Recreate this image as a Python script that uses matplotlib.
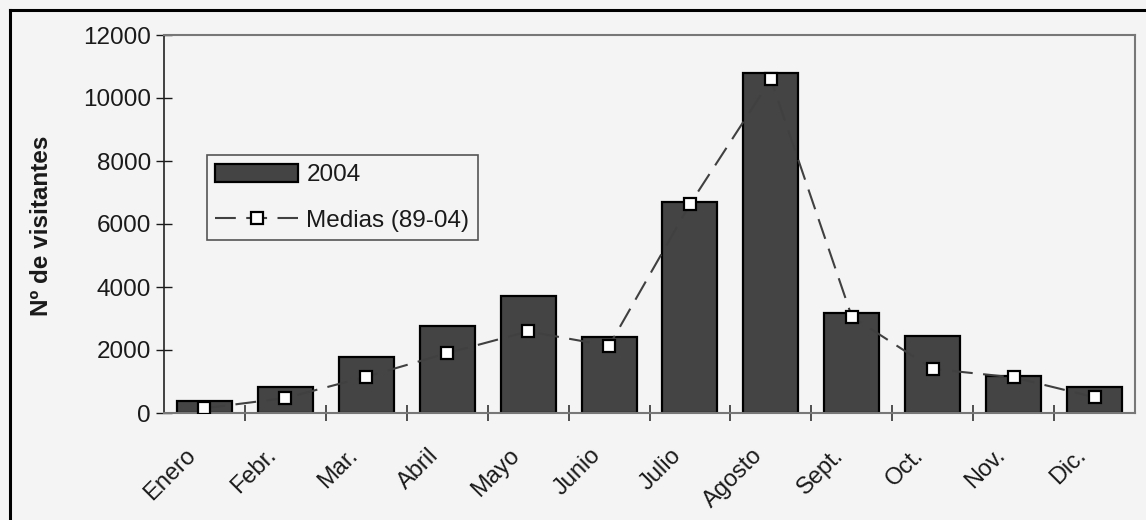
import matplotlib.pyplot as plt
import matplotlib.transforms as mtransforms
import numpy as np
from matplotlib.lines import Line2D

# datos
meses = ["Enero", "Febr.", "Mar.", "Abril", "Mayo", "Junio",
         "Julio", "Agosto", "Sept.", "Oct.", "Nov.", "Dic."]
visitantes_2004 = [390, 820, 1770, 2760, 3700, 2400, 6700, 10780, 3165, 2445, 1175, 835]
medias_89_04 = [150, 475, 1150, 1900, 2590, 2130, 6630, 10590, 3060, 1400, 1130, 500]
yticks = [0, 2000, 4000, 6000, 8000, 10000, 12000]

plt.rcParams['font.family'] = ['Liberation Sans', 'DejaVu Sans']
bg = '#f4f4f4'

fig = plt.figure(figsize=(11.46, 5.2), dpi=100, facecolor=bg)
ax = fig.add_axes([164 / 1146, 1 - 413 / 520, (1135 - 164) / 1146, (413 - 35) / 520])
ax.set_facecolor(bg)

x = np.arange(len(meses))
barras = ax.bar(x, visitantes_2004, width=0.68, color='#444444', edgecolor='black',
                linewidth=1.6, label='2004', zorder=2)
linea, = ax.plot(x, medias_89_04, color='#404040', lw=1.5, linestyle=(0, (10, 5)),
                 marker='s', markersize=8, markerfacecolor='white', markeredgecolor='black',
                 markeredgewidth=1.6, label='Medias (89-04)', zorder=3)

ax.set_xlim(-0.5, len(meses) - 0.5)
ax.set_ylim(0, 12000)
ax.set_yticks(yticks)
ax.set_yticklabels([str(v) for v in yticks], fontsize=17.5)
ax.tick_params(axis='y', direction='inout', length=11, width=1, pad=4, colors='#1a1a1a')

ax.set_xticks(x)
ax.set_xticklabels(meses, fontsize=17, rotation=45, ha='right', va='center',
                   rotation_mode='anchor')
ax.tick_params(axis='x', which='major', length=0, pad=0, colors='#1a1a1a')
desplaz = mtransforms.ScaledTranslation(-12 / 100, -39 / 100, fig.dpi_scale_trans)
for lbl in ax.get_xticklabels():
    lbl.set_transform(lbl.get_transform() + desplaz)
ax.set_xticks(x[1:] - 0.5, minor=True)
ax.tick_params(axis='x', which='minor', direction='inout', length=11, width=1.2, colors='#333333')

ax.set_ylabel('Nº de visitantes', fontsize=17.5, fontweight='bold', color='#1a1a1a')
ax.yaxis.set_label_coords(-0.114, 0.495)

ax.spines['left'].set_color('#222222')
ax.spines['left'].set_linewidth(1.2)
for s in ['top', 'right', 'bottom']:
    ax.spines[s].set_color('#777777')
    ax.spines[s].set_linewidth(1.5)

leg = ax.legend([barras, linea], ['2004', 'Medias (89-04)'], loc='upper left',
                bbox_to_anchor=(0.044, 0.682), borderaxespad=0,
                fontsize=17.5, frameon=True, fancybox=False, handlelength=3.4,
                handleheight=0.75, handletextpad=0.35, labelspacing=0.95,
                borderpad=0.35, facecolor=bg, framealpha=1)
leg.get_frame().set_edgecolor('#555555')
leg.get_frame().set_linewidth(1.2)
for t in leg.get_texts():
    t.set_color('#1a1a1a')

# marco del recorte escaneado
fig.add_artist(Line2D([10 / 1146, 10 / 1146], [0, 1 - 10 / 520], transform=fig.transFigure,
                      color='black', lw=2.2))
fig.add_artist(Line2D([10 / 1146, 1], [1 - 10 / 520, 1 - 10 / 520], transform=fig.transFigure,
                      color='black', lw=2.2))

plt.savefig('out.png', dpi=100, facecolor=bg)
